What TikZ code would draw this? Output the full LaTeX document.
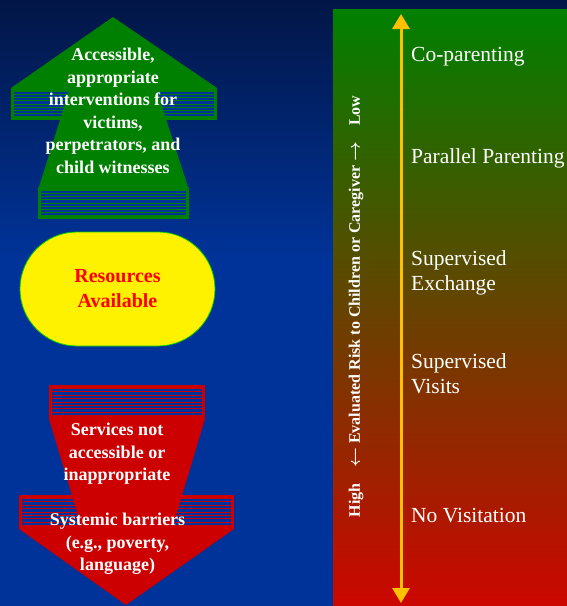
\documentclass[tikz,border=0pt]{standalone}
\usepackage{fontspec}
\usepackage{bm}
\setmainfont{Liberation Serif}
\usetikzlibrary{arrows.meta,positioning}

\definecolor{bgnavy}{RGB}{2,22,70}
\definecolor{bgblue}{RGB}{0,51,153}
\definecolor{arrowgreen}{RGB}{0,128,0}
\definecolor{arrowred}{RGB}{204,0,0}
\definecolor{riskgreen}{RGB}{0,128,0}
\definecolor{riskbrown}{RGB}{128,92,0}
\definecolor{riskred}{RGB}{204,6,0}
\definecolor{riskgold}{RGB}{255,192,0}

% striped band: colour, x1, y1, x2, y2
\newcommand{\stripeband}[5]{%
  \fill[bgblue] (#2,#3) rectangle (#4,#5);
  \foreach \k in {1,...,9}
    \draw[#1,line width=0.9] (#2+3,{#3+\k*(#5-#3)/10}) -- (#4-3,{#3+\k*(#5-#3)/10});
  \draw[#1,line width=2.6] (#2+1.3,#3+1.3) rectangle (#4-1.3,#5-1.3);
}

\begin{document}
\begin{tikzpicture}[
    x=1pt, y=-1pt,
    arrowtext/.style={
        text=white,
        align=center,
        inner sep=0pt,
        font=\bfseries\fontsize{18}{22.5}\selectfont
        },
    resbox/.style={
        draw=green!80!black,
        line width=0.8,
        fill=yellow,
        rounded corners=57,
        minimum width=195,
        minimum height=114,
        text=red,
        align=center,
        font=\bfseries\fontsize{20}{25}\selectfont
        },
    option/.style={
        text=white,
        anchor=base west,
        align=left,
        inner sep=0pt,
        font=\fontsize{21.5}{25}\selectfont
        },
    scale label/.style={
        text=white,
        rotate=90,
        inner sep=0pt,
        font=\bfseries\fontsize{16}{18}\selectfont
        },
    riskarrow/.style={
        riskgold,
        line width=3,
        {Triangle[width=17,length=15]}-{Triangle[width=17,length=15]}
        },
  ]
  \useasboundingbox (0,0) rectangle (567,606);
  % Background
  \fill[bgblue] (0,0) rectangle (567,606);
  \shade[top color=bgnavy, bottom color=bgblue] (0,0) rectangle (567,260);
  % Risk scale panel
  \shade[top color=riskgreen, middle color=riskbrown, bottom color=riskred] (333,9) rectangle (567,606);
  \coordinate (risklow) at (401,14);
  \coordinate (riskhigh) at (401,603);
  \draw[riskarrow] (risklow) -- (riskhigh);
  \node[scale label] (riskaxis) at (356,306.5)
    {High\hspace{16pt}$\bm{\leftarrow}$\ Evaluated Risk to Children or Caregiver\ $\bm{\rightarrow}$\hspace{16pt}Low};
  \node[option] (coparent) at (411,61) {Co-parenting};
  \node[option] (parallel) at (411,163) {Parallel Parenting};
  % two-line labels sit on their last baseline
  \node[option] (exchange) at (411,290) {Supervised\\Exchange};
  \node[option] (visits) at (411,393) {Supervised\\Visits};
  \node[option] (novisit) at (411,522) {No Visitation};

  % Green arrow (up)
  \fill[arrowgreen] (113,17) -- (217,88) -- (11,88) -- cycle;
  \stripeband{arrowgreen}{11}{88}{217}{120}
  \fill[arrowgreen] (70,88) -- (156,88) -- (188,187) -- (39,187) -- cycle;
  \stripeband{arrowgreen}{38}{187}{189}{219}
  \node[arrowtext] (helpful) at (113,111)
    {Accessible,\\appropriate\\interventions for\\victims,\\perpetrators, and\\child witnesses};

  % Resources
  \node[resbox] (resources) at (117.5,289) {Resources\\Available};

  % Red arrow (down)
  \stripeband{arrowred}{49}{385}{205}{419}
  \stripeband{arrowred}{19}{495}{234}{529}
  \fill[arrowred] (49,419) -- (205,419) -- (172,529) -- (82,529) -- cycle;
  \fill[arrowred] (19,529) -- (234,529) -- (126,605) -- cycle;
  \node[arrowtext] (services) at (117,454)
    {Services not\\accessible or\\inappropriate};
  \node[arrowtext] (barriers) at (117.5,544)
    {Systemic barriers\\(e.g., poverty,\\language)};
\end{tikzpicture}
\end{document}
